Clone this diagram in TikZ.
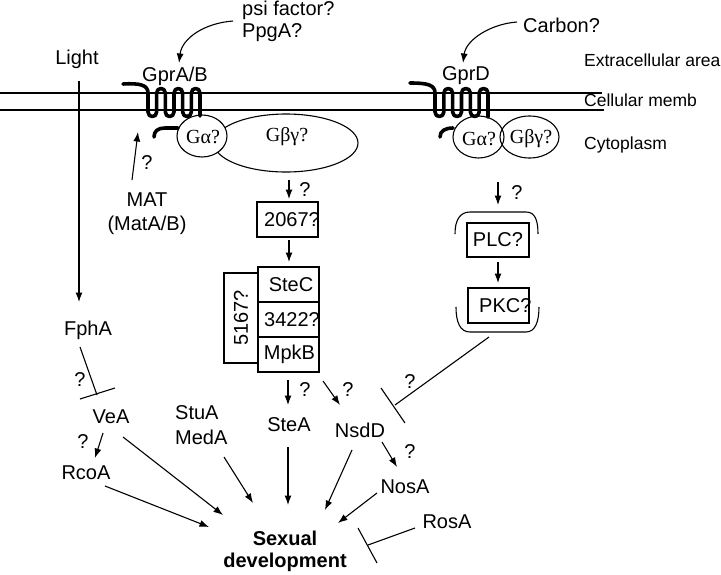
\documentclass[tikz,border=0pt]{standalone}
\usepackage{fontspec}
\setmainfont{Liberation Sans}
\newfontfamily\serifgr{Liberation Serif}
\usetikzlibrary{arrows.meta,shapes.geometric}
\begin{document}
\begin{tikzpicture}[x=1pt,y=-1pt,
  font=\fontsize{20}{24}\selectfont,
  lbl/.style={inner sep=0pt},
  qm/.style={inner sep=0pt},
  side/.style={inner sep=0pt, anchor=west, font=\fontsize{17.5}{21}\selectfont},
  arr/.style={line width=1.1pt, -{Latex[length=9.5pt,width=7pt]}},
  inh/.style={line width=1.1pt},
  box/.style={draw, line width=1.1pt, minimum width=61pt, minimum height=35pt, inner sep=0pt},
  gpcr/.style={line width=3.6pt, line cap=round, line join=round},
  memb/.style={line width=1.1pt},
  oval/.style={ellipse, draw, line width=1.1pt, inner sep=0pt},
  gr/.style={inner sep=0pt, font=\fontsize{20}{24}\serifgr}]
\useasboundingbox (0,0) rectangle (721,574);

% membrane
\draw[memb] (0,93) -- (602,93);
\draw[memb] (0,110) -- (604,110);
\node[side] (extra) at (584,60) {Extracellular area};
\node[side] (cellm) at (584,100) {Cellular memb};
\node[side] (cyto) at (584,145) {Cytoplasm};

% left receptor complex
\node[oval, minimum width=144pt, minimum height=58pt] (gbg1) at (286,143) {};
\node[oval, fill=white, minimum width=50pt, minimum height=42pt] (ga1) at (202,136) {};
\node[gr] (ga1t) at (203,137) {Gα?};
\node[gr] (gbg1t) at (287,137) {Gβγ?};
\draw[gpcr] (123,84) .. controls (140,83) and (148,85) .. (148,93)
 -- (148,112) .. controls (148,118) and (156.67,118) .. (156.67,112)
 -- (156.67,93) .. controls (156.67,87) and (165.33,87) .. (165.33,93)
 -- (165.33,112) .. controls (165.33,118) and (174,118) .. (174,112)
 -- (174,93) .. controls (174,87) and (182.67,87) .. (182.67,93)
 -- (182.67,112) .. controls (182.67,118) and (191.33,118) .. (191.33,112)
 -- (191.33,93) .. controls (191.33,87) and (200,87) .. (200,93)
 -- (200,116);
\draw[gpcr] (154,137) .. controls (154,131) and (158,128) .. (165,128) -- (178,128);
\node[lbl] (gprab) at (175,76) {GprA/B};

% right receptor complex
\node[oval, minimum width=59pt, minimum height=42pt] (gbg2) at (529.5,137) {};
\node[oval, minimum width=51pt, minimum height=42pt] (ga2) at (478.5,137) {};
\node[gr] (ga2t) at (479,139) {Gα?};
\node[gr] (gbg2t) at (531,139) {Gβγ?};
\draw[gpcr] (410,83) .. controls (428,83) and (435,85) .. (435,93)
 -- (435,112) .. controls (435,118) and (443.83,118) .. (443.83,112)
 -- (443.83,93) .. controls (443.83,87) and (452.67,87) .. (452.67,93)
 -- (452.67,112) .. controls (452.67,118) and (461.5,118) .. (461.5,112)
 -- (461.5,93) .. controls (461.5,87) and (470.33,87) .. (470.33,93)
 -- (470.33,112) .. controls (470.33,118) and (479.17,118) .. (479.17,112)
 -- (479.17,93) .. controls (479.17,87) and (488,87) .. (488,93)
 -- (488,117);
\draw[gpcr] (440,137) .. controls (440,131) and (445,128) .. (453,128);
\node[lbl] (gprd) at (466,76) {GprD};

% ligands
\node[lbl, anchor=west] (psi) at (242,10) {psi factor?};
\node[lbl, anchor=west] (ppga) at (242,33) {PpgA?};
\draw[arr] (233,21) .. controls (205,23) and (182,38) .. (179,63);
\node[lbl, anchor=west] (carbon) at (523,25) {Carbon?};
\draw[arr] (517,22) .. controls (490,24) and (466,40) .. (463,63);

% light
\node[lbl] (light) at (77,59) {Light};
\node[lbl] (fpha) at (88,330) {FphA};
\draw[arr] (79,81) -- (79,302);

% MAT
\node[lbl] (mat) at (147,200) {MAT};
\node[lbl] (matab) at (147,225) {(MatA/B)};
\draw[arr] (132,180) -- (138,132);
\node[qm] at (147,163) {?};

% middle cascade
\draw[arr] (289,180) -- (289,199);
\node[qm] at (305,190) {?};
\node[box] (b2067) at (287.5,219.5) {};
\node[lbl, anchor=west] at (264,219.5) {2067?};
\draw[arr] (289,240) -- (289,262);
\node[box] (stec) at (288.5,284.5) {};
\node[box] (b3422) at (288.5,319.5) {};
\node[box] (mpkb) at (288.5,354.5) {};
\node[lbl] at (291,284.5) {SteC};
\node[lbl, anchor=west] at (264,319.5) {3422?};
\node[lbl] at (289.5,354.5) {MpkB};
\node[draw, line width=1.1pt, minimum width=34pt, minimum height=90pt, inner sep=0pt] (b5167) at (241,318) {};
\node[lbl, rotate=90] at (241,318) {5167?};

% right cascade
\draw[arr] (498,182) -- (498,205);
\node[qm] at (517,193) {?};
\draw[line width=1.1pt] (455,234) .. controls (455,220) and (460,212) .. (470,212) -- (526,212) .. controls (535,212) and (538,220) .. (538,234);
\draw[line width=1.1pt] (456,307) .. controls (456,322) and (460,332) .. (470,332) -- (526,332) .. controls (535,332) and (539,322) .. (539,307);
\node[box, minimum width=62pt, minimum height=34pt] (plc) at (498,240) {};
\node[lbl] at (498,240) {PLC?};
\node[box] (pkc) at (498.5,305.5) {};
\node[lbl, anchor=west] at (479,305.5) {PKC?};
\draw[arr] (498,262) -- (498,283);

% lower part
\node[lbl] (stea) at (289,425) {SteA};
\node[lbl] (nsdd) at (360,430) {NsdD};
\node[lbl, anchor=west] (stua) at (175,413) {StuA};
\node[lbl, anchor=west] (meda) at (175,437) {MedA};
\node[lbl] (vea) at (111,417) {VeA};
\node[lbl] (rcoa) at (86,473) {RcoA};
\node[lbl] (nosa) at (405,487) {NosA};
\node[lbl] (rosa) at (447,522) {RosA};
\node[lbl, font=\fontsize{20}{24}\selectfont\bfseries] (sex) at (285,538) {Sexual};
\node[lbl, font=\fontsize{20}{24}\selectfont\bfseries] (dev) at (285,562) {development};

\draw[arr] (288,380) -- (288,405);
\node[qm] at (305,390) {?};
\draw[arr] (323,381) -- (340,405);
\node[qm] at (348,390) {?};

% inhibitions
\draw[inh] (80,347) -- (97,395);
\draw[inh] (80,399) -- (115,388);
\node[qm] at (80,380) {?};
\draw[inh] (489,337) -- (395,405);
\draw[inh] (381,388) -- (405,423);
\node[qm] at (410,382) {?};
\draw[inh] (415,528) -- (368,545);
\draw[inh] (358,528) -- (377,563);

% activations
\draw[arr] (103,433) -- (95,458);
\node[qm] at (83,442) {?};
\draw[arr] (123,437) -- (223,515);
\draw[arr] (224,457) -- (253,503);
\draw[arr] (105,486) -- (209,527);
\draw[arr] (288,447) -- (288,505);
\draw[arr] (352,450) -- (325,510);
\draw[arr] (382,442) -- (397,467);
\node[qm] at (410,452) {?};
\draw[arr] (377,493) -- (338,523);
\end{tikzpicture}
\end{document}
